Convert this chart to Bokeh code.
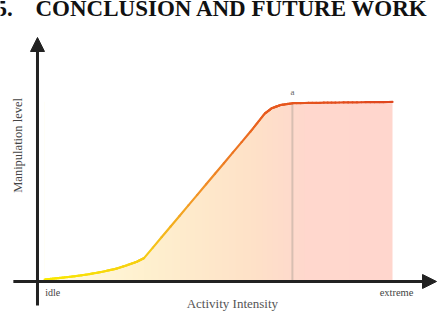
import numpy as np
from bokeh.plotting import figure
from bokeh.models import Range1d, Label, Arrow, NormalHead
from bokeh.embed import file_html
from bokeh.resources import INLINE

# ---- data (conceptual units: intensity 0..100, level 0..100)
curve_x = [2, 6, 10, 14, 18, 22, 25, 28, 30, 60, 64, 66, 68.5, 72, 85, 100]
curve_y = [1.1, 1.9, 2.8, 3.9, 5.3, 7.0, 8.9, 11.0, 13, 83.5, 93.5, 96.5, 98.3, 99.3, 99.7, 100]
marker_x = 71.8
marker_label = "a"
x_tick_labels = ["idle", "extreme"]
x_title = "Activity Intensity"
y_title = "Manipulation level"
heading_num = "5."
heading_text = "CONCLUSION AND FUTURE WORK"

W, H = 445, 336
p = figure(width=W, height=H, output_backend="svg", toolbar_location=None,
           x_range=Range1d(-10.42, 114.93), y_range=Range1d(-30.64, 156.5),
           min_border=0)
p.axis.visible = False
p.grid.visible = False
p.outline_line_color = None
p.background_fill_color = "white"
p.border_fill_color = "white"

def lerp_color(stops, t):
    xs = [s[0] for s in stops]
    cols = np.array([s[1] for s in stops], dtype=float)
    return [np.interp(t, xs, cols[:, k]) for k in range(3)]

fill_stops = [(0, (255, 252, 226)), (30, (255, 241, 207)), (60, (254, 226, 200)),
              (75, (255, 216, 205)), (100, (255, 214, 206))]
line_stops = [(0, (250, 236, 0)), (30, (246, 206, 20)), (45, (242, 150, 40)),
              (65, (232, 90, 30)), (100, (224, 70, 30))]

# gradient fill image
N = 300
x0, x1 = curve_x[0], curve_x[-1]
img = np.zeros((1, N), dtype=np.uint32)
view = img.view(dtype=np.uint8).reshape((1, N, 4))
for i in range(N):
    t = x0 + (x1 - x0) * (i + 0.5) / N
    r, g, b = lerp_color(fill_stops, t)
    view[0, i] = [int(r), int(g), int(b), 255]
p.image_rgba(image=[img], x=x0, y=0, dw=x1 - x0, dh=max(curve_y))
# white mask above the curve
p.varea(x=curve_x, y1=curve_y, y2=[max(curve_y) + 0.8] * len(curve_x), fill_color="white")

# marker line
my = float(np.interp(marker_x, curve_x, curve_y))
p.segment(x0=[marker_x], y0=[0], x1=[marker_x], y1=[my], line_color="#d8bfb2", line_width=2)
p.add_layout(Label(x=marker_x, y=my + 3.5, text=marker_label, text_align="center",
                   text_baseline="bottom", text_font="Liberation Serif",
                   text_font_size="9px", text_color="#666666"))

# gradient curve: subdivide each straight piece for colour
xs0, ys0, xs1, ys1, cols = [], [], [], [], []
for k in range(len(curve_x) - 1):
    n = 12
    px = np.linspace(curve_x[k], curve_x[k + 1], n + 1)
    py = np.linspace(curve_y[k], curve_y[k + 1], n + 1)
    for j in range(n):
        xs0.append(px[j]); ys0.append(py[j]); xs1.append(px[j + 1]); ys1.append(py[j + 1])
        r, g, b = lerp_color(line_stops, (px[j] + px[j + 1]) / 2)
        cols.append("#%02x%02x%02x" % (int(r), int(g), int(b)))
p.segment(x0=xs0, y0=ys0, x1=xs1, y1=ys1, line_color=cols, line_width=2.2, line_cap="round")

# axes with arrows
ax_col = "#222222"
p.add_layout(Arrow(x_start=-6.8, y_start=0, x_end=112.4, y_end=0, line_color=ax_col,
                   line_width=3, end=NormalHead(size=14, fill_color=ax_col, line_color=ax_col)))
p.add_layout(Arrow(x_start=0, y_start=-13.4, x_end=0, y_end=135.9, line_color=ax_col,
                   line_width=3, end=NormalHead(size=14, fill_color=ax_col, line_color=ax_col)))

# labels
font = "Liberation Serif"
p.add_layout(Label(x=2.2, y=-6.2, text=x_tick_labels[0], text_align="left", text_baseline="middle",
                   text_font=font, text_font_size="10px", text_color="#444444"))
p.add_layout(Label(x=105.9, y=-6.2, text=x_tick_labels[1], text_align="right", text_baseline="middle",
                   text_font=font, text_font_size="10.5px", text_color="#444444"))
p.add_layout(Label(x=54.9, y=-12.4, text=x_title, text_align="center", text_baseline="middle",
                   text_font=font, text_font_size="13px", text_color="#555555"))
p.add_layout(Label(x=-5.4, y=75.8, text=y_title, text_align="center", text_baseline="middle",
                   angle=np.pi / 2, text_font=font, text_font_size="12.5px", text_color="#444444"))

# heading (cropped at the top-left, as in the reference)
p.add_layout(Label(x=-5, y=H - 8, x_units="screen", y_units="screen", text=heading_num,
                   text_baseline="alphabetic", text_font=font, text_font_style="bold",
                   text_font_size="23px", text_color="#111111"))
p.add_layout(Label(x=35, y=H - 8, x_units="screen", y_units="screen", text=heading_text,
                   text_baseline="alphabetic", text_font=font, text_font_style="bold",
                   text_font_size="23px", text_color="#111111"))

open("out.html", "w").write(file_html(p, INLINE))
